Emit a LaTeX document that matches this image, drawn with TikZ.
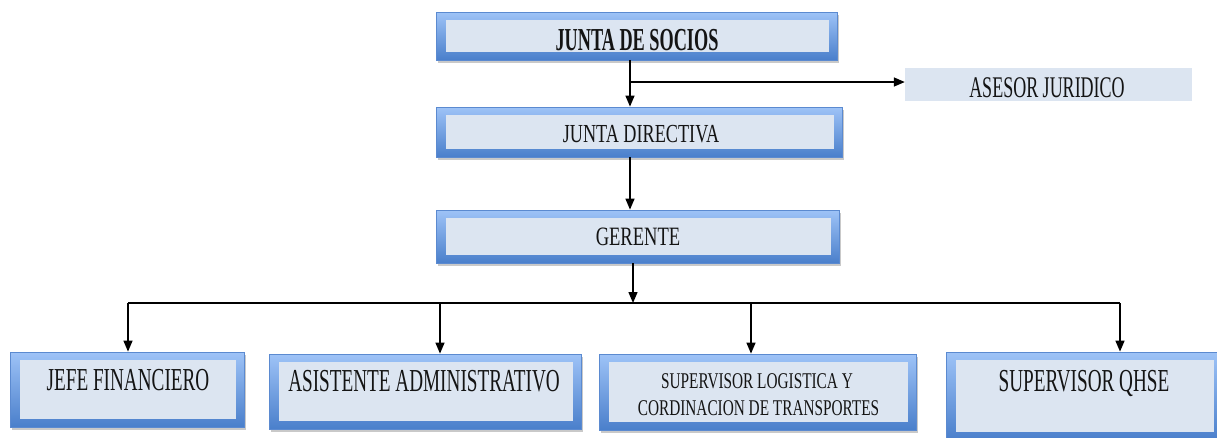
\documentclass[tikz,border=0pt]{standalone}
\usepackage{fontspec}
\setmainfont{Liberation Serif}
\newfontfamily\fsoc[FakeStretch=0.57]{Liberation Serif}
\newfontfamily\fmid[FakeStretch=0.70]{Liberation Serif}
\newfontfamily\flow[FakeStretch=0.60]{Liberation Serif}
\newfontfamily\fsup[FakeStretch=0.68]{Liberation Serif}
\usetikzlibrary{arrows.meta,shadows,calc}
\definecolor{btop}{HTML}{9EC3F7}
\definecolor{bbot}{HTML}{4A7FCB}
\definecolor{bedge}{HTML}{5B8AD0}
\definecolor{innerc}{HTML}{DCE5F1}
\definecolor{txt}{HTML}{141414}
\tikzset{
  obox/.style={rectangle, inner sep=0pt, draw=bedge, line width=0.8pt,
    top color=btop, bottom color=bbot,
    drop shadow={shadow xshift=2pt, shadow yshift=-3pt, opacity=0.3, fill=black!70},
    path picture={\fill[innerc] ([xshift=10pt,yshift=-8pt]path picture bounding box.north west) rectangle ([xshift=-8pt,yshift=8pt]path picture bounding box.south east);}},
  flatbox/.style={rectangle, inner sep=0pt, fill=innerc},
  lbl/.style={anchor=base, text=txt, inner sep=0pt},
  arr/.style={line width=1.4pt, -{Triangle[width=9pt,length=11pt]}},
  ln/.style={line width=1.4pt}
}
\begin{document}
\begin{tikzpicture}[x=1pt,y=-1pt]
\useasboundingbox (0,0) rectangle (1217,437);
% boxes
\node[obox, minimum width=401pt, minimum height=48pt] (soc) at (636.5,36) {};
\node[obox, minimum width=406pt, minimum height=50pt] (dir) at (639,132) {};
\node[obox, minimum width=403pt, minimum height=53pt] (ger) at (637.5,236.5) {};
\node[flatbox, minimum width=287pt, minimum height=33pt] (ases) at (1048.5,84.5) {};
\node[obox, minimum width=234pt, minimum height=75pt] (jefe) at (127,389.5) {};
\node[obox, minimum width=312pt, minimum height=75pt] (asis) at (425,391.5) {};
\node[obox, minimum width=317pt, minimum height=76pt] (sup) at (757.5,392) {};
\node[obox, minimum width=276pt, minimum height=88pt] (qhse) at (1084,396) {};
% labels
\node[lbl, font={\fsoc\bfseries\fontsize{32}{34}\selectfont}] (tsoc) at (637,50) {JUNTA DE SOCIOS};
\node[lbl, font={\fmid\fontsize{26}{28}\selectfont}] (tdir) at (641,142) {JUNTA DIRECTIVA};
\node[lbl, font={\fmid\fontsize{26.5}{28}\selectfont}] (tger) at (638,245) {GERENTE};
\node[lbl, font={\flow\fontsize{30}{32}\selectfont}] (tases) at (1047,97) {ASESOR JURIDICO};
\node[lbl, font={\flow\fontsize{32}{34}\selectfont}] (tjefe) at (128,390) {JEFE FINANCIERO};
\node[lbl, font={\flow\fontsize{32}{34}\selectfont}] (tasis) at (424,391) {ASISTENTE ADMINISTRATIVO};
\node[lbl, font={\fsup\fontsize{22.5}{24}\selectfont}] (tsup1) at (757,388) {SUPERVISOR LOGISTICA Y};
\node[lbl, font={\fsup\fontsize{22.5}{24}\selectfont}] (tsup2) at (758.5,415) {CORDINACION DE TRANSPORTES};
\node[lbl, font={\flow\fontsize{32}{34}\selectfont}] (tqhse) at (1084,391) {SUPERVISOR QHSE};
% connectors
\coordinate (s1) at (630,60);
\draw[arr] (s1) -- (s1 |- dir.north);
\coordinate (br) at (630,82);
\draw[arr] (br) -- (br -| ases.west);
\coordinate (d1) at (630,157);
\draw[arr] (d1) -- (d1 |- ger.north);
\coordinate (g1) at (633,263);
\coordinate (bus) at (633,303);
\draw[arr] (g1) -- (bus);
\coordinate (bL) at (128,303);
\coordinate (b2) at (440,303);
\coordinate (b3) at (751,303);
\coordinate (bR) at (1120,303);
\draw[ln] (bL) -- (bR);
\draw[arr] (bL) -- (bL |- jefe.north);
\draw[arr] (b2) -- (b2 |- asis.north);
\draw[arr] (b3) -- (b3 |- sup.north);
\draw[arr] (bR) -- (bR |- qhse.north);
\end{tikzpicture}
\end{document}
